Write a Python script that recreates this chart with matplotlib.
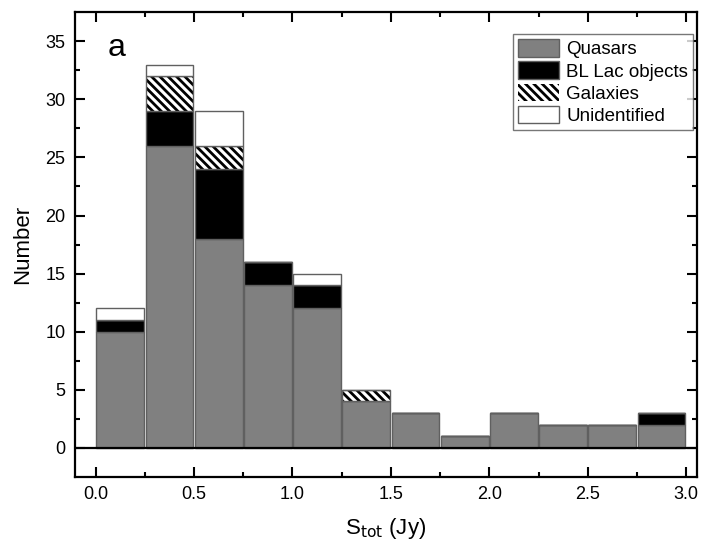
import numpy as np
import matplotlib
matplotlib.use("Agg")
import matplotlib.pyplot as plt

plt.rcParams["font.family"] = ["Liberation Sans", "DejaVu Sans"]
plt.rcParams["hatch.linewidth"] = 2.0

# bin left edges (Jy), width 0.25
bin_left = [0.0, 0.25, 0.5, 0.75, 1.0, 1.25, 1.5, 1.75, 2.0, 2.25, 2.5, 2.75]
quasars = [10, 26, 18, 14, 12, 4, 3, 1, 3, 2, 2, 2]
bllac = [1, 3, 6, 2, 2, 0, 0, 0, 0, 0, 0, 1]
galaxies = [0, 3, 2, 0, 0, 1, 0, 0, 0, 0, 0, 0]
unident = [1, 1, 3, 0, 1, 0, 0, 0, 0, 0, 0, 0]

fig = plt.figure(figsize=(7.06, 5.48), dpi=100)
ax = fig.add_axes([0.1062, 0.130, 0.881, 0.8475])

w = 0.243
x = np.array(bin_left) + 0.125
q = np.array(quasars)
b = np.array(bllac)
g = np.array(galaxies)
u = np.array(unident)

edge = "#606060"
ax.bar(x, q, w, color="#808080", edgecolor=edge, linewidth=1.0, label="Quasars")
ax.bar(x, b, w, bottom=q, color="black", edgecolor=edge, linewidth=1.0,
       label="BL Lac objects")
ax.bar(x, g, w, bottom=q + b, color="white", edgecolor="black", hatch="\\\\\\\\",
       linewidth=0, label="Galaxies")
ax.bar(x, g, w, bottom=q + b, color="none", edgecolor=edge, linewidth=1.0)
ax.bar(x, u, w, bottom=q + b + g, color="white", edgecolor=edge, linewidth=1.0,
       label="Unidentified")

ax.axhline(0, color="black", linewidth=1.6, zorder=3)

ax.set_xlim(-0.105, 3.055)
ax.set_ylim(-2.5, 37.5)
ax.set_xticks([0.0, 0.5, 1.0, 1.5, 2.0, 2.5, 3.0])
ax.set_xticks(np.arange(0.25, 3.0, 0.5), minor=True)
ax.set_yticks([0, 5, 10, 15, 20, 25, 30, 35])
ax.set_yticks(np.arange(2.5, 37.5, 5), minor=True)
ax.tick_params(which="both", direction="in", top=True, right=True,
               labelsize=13, width=1.5, pad=7)
ax.tick_params(which="major", length=7)
ax.tick_params(which="minor", length=3.6)
for s in ax.spines.values():
    s.set_linewidth(1.6)

ax.set_xlabel(r"S$_{\rm tot}$ (Jy)", fontsize=16, labelpad=9)
ax.set_ylabel("Number", fontsize=16, labelpad=9)
ax.text(0.053, 0.923, "a", transform=ax.transAxes, fontsize=23, va="center")

handles, labels = ax.get_legend_handles_labels()
leg = ax.legend(handles, labels, loc="upper right", bbox_to_anchor=(0.9936, 0.953),
                borderaxespad=0, fontsize=13.5, fancybox=False, edgecolor="#555555",
                handlelength=2.2, handleheight=1.07, labelspacing=0.16,
                handletextpad=0.36, borderpad=0.27)
leg.get_frame().set_linewidth(1.0)

fig.savefig("out.png", dpi=100)
